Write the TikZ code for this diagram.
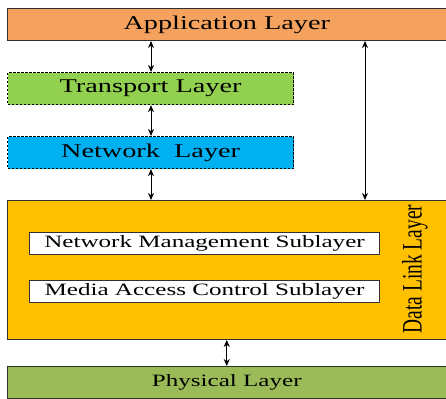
\documentclass[tikz,border=0pt]{standalone}
\usepackage{fontspec}
\setmainfont{Liberation Serif}
\newfontfamily\layerfont[FakeStretch=1.45]{Liberation Serif}
\usetikzlibrary{arrows.meta}
\definecolor{appcol}{HTML}{F4A25E}
\definecolor{transcol}{HTML}{92D050}
\definecolor{netcol}{HTML}{00B0F0}
\definecolor{dllcol}{HTML}{FFC000}
\definecolor{phycol}{HTML}{9BBB59}
\definecolor{edgecol}{HTML}{303030}
\begin{document}
\begin{tikzpicture}[x=1pt,y=-1pt,
  layer/.style={draw=edgecol,line width=1pt,anchor=north west,inner sep=0pt,
    font=\layerfont\fontsize{19.5}{20}\selectfont},
  sublayer/.style={layer,fill=white,font=\layerfont\fontsize{17.3}{18}\selectfont},
  dashbox/.style={layer,draw=black,line width=1.2pt,dash pattern=on 2.5pt off 1.5pt},
  conn/.style={line width=0.8pt,{Stealth[length=7pt,width=6pt]}-{Stealth[length=7pt,width=6pt]}}]
  %Frame
  \useasboundingbox (0,0) rectangle (446,398);
  %Upper layers
  \node[layer,fill=appcol,minimum width=438.5pt,minimum height=32pt] (app) at (7,8) {Application Layer};
  \node[dashbox,fill=transcol,minimum width=286pt,minimum height=32pt] (trans) at (7,72) {Transport Layer};
  \node[dashbox,fill=netcol,minimum width=286pt,minimum height=32pt] (net) at (7,136) {Network\ \ Layer};
  %Data link layer and its sublayers
  \node[layer,fill=dllcol,minimum width=438.5pt,minimum height=139pt] (dll) at (7,200) {};
  \node[sublayer,minimum width=350pt,minimum height=22pt] (nms) at (29,232) {Network Management Sublayer};
  \node[sublayer,minimum width=350pt,minimum height=22pt] (mac) at (29,280) {Media Access Control Sublayer};
  \node[rotate=90,inner sep=0pt,font=\fontsize{19.4}{20}\selectfont] (dlltext) at (415,269)
    {\scalebox{1}[1.45]{Data Link Layer}};
  %Physical layer
  \node[layer,fill=phycol,minimum width=438.5pt,minimum height=32pt,
    font=\layerfont\fontsize{17.3}{18}\selectfont] (phy) at (7,366) {Physical Layer};
  %Connections
  \coordinate (tap) at (365,0);
  \draw[conn] (app.south -| 151,0) -- (trans.north -| 151,0);
  \draw[conn] (trans.south -| 151,0) -- (net.north -| 151,0);
  \draw[conn] (net.south -| 151,0) -- (dll.north -| 151,0);
  \draw[conn] (app.south -| tap) -- (dll.north -| tap);
  \draw[conn] (dll.south) -- (phy.north);
\end{tikzpicture}
\end{document}
